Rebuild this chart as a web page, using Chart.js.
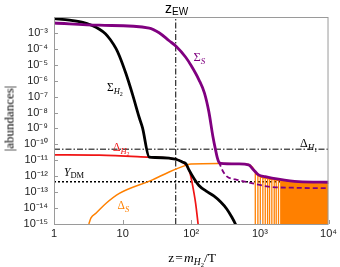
<!DOCTYPE html>
<html><head><meta charset="utf-8">
<script src="https://cdn.jsdelivr.net/npm/chart.js@4/dist/chart.umd.min.js"></script>
<style>
html,body{margin:0;padding:0;background:#fff;}
#wrap{position:relative;width:340px;height:267px;overflow:hidden;background:#fff;}
canvas{position:absolute;left:0;top:0;}
.lb{position:absolute;white-space:nowrap;font-family:"Liberation Serif","Times New Roman",serif;line-height:1;color:#000;}
.sans{font-family:"Liberation Sans",Arial,sans-serif;}
.it{font-style:italic;}
.sb{position:relative;}
</style></head><body>
<div id="wrap">
<canvas id="c" width="340" height="267"></canvas>
<div class="lb sans" style="left:165px;top:1px;font-size:14px;">z<span class="sb" style="font-size:10px;top:2px;">EW</span></div>
<div class="lb" style="left:107px;top:82px;font-size:11.5px;">Σ<span class="sb it" style="font-size:8.5px;top:3px;">H<span class="sb" style="font-size:6px;top:1.5px;font-style:normal;">2</span></span></div>
<div class="lb" style="left:193.5px;top:51px;font-size:12.5px;color:#800080;">Σ<span class="sb it" style="font-size:9px;top:2.5px;">S</span></div>
<div class="lb" style="left:113px;top:142px;font-size:11.5px;color:rgb(240,20,20);">Δ<span class="sb it" style="font-size:8.5px;top:3px;">H<span class="sb" style="font-size:6px;top:1.5px;font-style:normal;">2</span></span></div>
<div class="lb" style="left:300px;top:137px;font-size:12px;">Δ<span class="sb it" style="font-size:9px;top:3px;">H<span class="sb" style="font-size:6px;top:1.5px;font-style:normal;">1</span></span></div>
<div class="lb" style="left:64px;top:167px;font-size:11.5px;"><span class="it">Y</span><span class="sb" style="font-size:8.5px;top:1.5px;">DM</span></div>
<div class="lb" style="left:117.5px;top:200px;font-size:11.5px;color:rgb(255,128,0);">Δ<span class="sb it" style="font-size:8.5px;top:3px;">S</span></div>
<div class="lb" style="left:92px;top:251px;width:200px;text-align:center;font-size:13.5px;">z&#8202;=&#8202;<span class="it">m</span><span class="sb it" style="font-size:9.5px;top:3px;">H<span class="sb" style="font-size:6.5px;top:1.5px;font-style:normal;">2</span></span>/T</div>
<div class="lb" style="left:-41px;top:112px;width:100px;height:13px;text-align:center;font-size:13px;transform:rotate(-90deg);">|abundances|</div>
</div>
<script>
// ---- axis ticks ----
const zTicks = [1, 10, 100, 1000, 10000];
const zTickLabels = ['1', '10', '10²', '10³', '10⁴'];
const yTicks = [1e-15, 1e-14, 1e-13, 1e-12, 1e-11, 1e-10, 1e-9, 1e-8, 1e-7, 1e-6, 1e-5, 1e-4, 1e-3];
const yTickLabels = ['10⁻¹⁵', '10⁻¹⁴', '10⁻¹³', '10⁻¹²', '10⁻¹¹', '10⁻¹⁰', '10⁻⁹', '10⁻⁸', '10⁻⁷', '10⁻⁶', '10⁻⁵', '10⁻⁴', '10⁻³'];
const zMin = 1, zMax = 1e4, yMin = 1e-15, yMax = 1e-2;

// ---- Sigma_H2 (black) ----
const sigmaH2Z = [1, 1.69, 2.63, 3.52, 4.59, 5.61, 6.64, 8.02, 8.95, 11.2, 14.0, 17.5, 19.5, 24.4, 30, 47.6, 60, 74, 83.8, 92.6, 109.4, 129.4, 163.3, 213, 269, 329, 389, 440, 459];
const sigmaH2Y = [7.8e-3, 6.3e-3, 4.6e-3, 3.0e-3, 1.7e-3, 8.9e-4, 3.7e-4, 1.02e-4, 3.7e-5, 2.7e-6, 1.29e-7, 4.7e-9, 1.1e-9, 1.6e-11, 1.5e-11, 1.36e-11, 1.17e-11, 7.9e-12, 5.9e-12, 2.5e-12, 7.3e-13, 2.64e-13, 1.19e-13, 5.8e-14, 2.4e-14, 8.8e-15, 2.75e-15, 1.0e-15, 6.5e-16];

// ---- Delta_H2 (red) ----
const deltaH2Z = [1, 4.6, 24.4, 47.6, 60, 74, 87.4, 95.8, 103.3, 115.8, 126.3];
const deltaH2Y = [2.19e-11, 2.1e-11, 1.57e-11, 1.36e-11, 1.17e-11, 7.9e-12, 4.0e-12, 1.6e-12, 3.6e-13, 2.0e-14, 8.6e-16];

// ---- Sigma_S (purple, solid) ----
const sigmaSZ = [1, 4.6, 24.4, 34.0, 47.6, 60, 83, 100, 129.4, 155.4, 180.6, 206, 226, 240, 252, 269, 491, 686, 811, 957, 1197, 1866, 3640, 10000];
const sigmaSY = [4.2e-3, 3.05e-3, 2.03e-3, 1.03e-3, 3.23e-4, 1.46e-4, 2.96e-5, 8.65e-6, 1.14e-6, 1.73e-7, 1.1e-8, 3.4e-10, 4.5e-11, 1.42e-11, 7.9e-12, 6.4e-12, 5.9e-12, 5.1e-12, 2.5e-12, 1.21e-12, 9.4e-13, 6.5e-13, 4.57e-13, 4.2e-13];

// ---- Sigma_S alternative (purple, dashed) ----
const sigmaSDashZ = [252, 269, 288, 333, 440, 686, 1337, 2980, 10000];
const sigmaSDashY = [7.9e-12, 4.1e-12, 2.15e-12, 9.4e-13, 6.3e-13, 4.1e-13, 2.22e-13, 1.9e-13, 1.76e-13];

// ---- Delta_S (orange) ----
const deltaSZ = [3.22, 3.46, 4.12, 5.75, 8.96, 27.2, 47.6, 83, 99, 252, 686, 800];
const deltaSY = [1.0e-15, 2.4e-15, 4.9e-15, 2.0e-14, 8.3e-14, 5.9e-13, 1.86e-12, 4.8e-12, 5.9e-12, 6.4e-12, 5.5e-12, 3.3e-12];
// oscillation zeros of Delta_S and the envelope value at each
const spikeZ = [857, 935, 1014, 1105, 1197, 1294, 1384, 1493, 1618, 1729, 1867, 2015];
const spikeTop = [1.6e-12, 1.12e-12, 9.0e-13, 8.0e-13, 7.5e-13, 7.0e-13, 6.7e-13, 6.4e-13, 6.0e-13, 5.8e-13, 5.5e-13, 5.3e-13];
const spikeFloor = 1e-17;
// dense oscillation region, drawn as filled envelope
const denseZ = [2015, 2500, 3640, 6000, 10000];
const denseY = [5.3e-13, 4.7e-13, 4.1e-13, 3.8e-13, 3.5e-13];

// ---- reference lines ----
const zEW = 59.4;
const deltaH1 = 5e-11;
const yDM = 4.5e-13;

const mk = (zs, ys) => zs.map((z, i) => ({x: z, y: ys[i]}));
const spikePts = [{x: deltaSZ[deltaSZ.length - 1], y: deltaSY[deltaSY.length - 1]}];
spikeZ.forEach((z, i) => { spikePts.push({x: z, y: spikeTop[i]}, {x: z, y: spikeFloor}, {x: z, y: spikeTop[i]}); });

const PURPLE = '#800080', RED = 'rgb(240,20,20)', ORANGE = 'rgb(255,128,0)';
const base = {showLine: true, pointRadius: 0, fill: false, borderJoinStyle: 'round'};

const framePlugin = {
  id: 'frame',
  afterDatasetsDraw(chart) {
    const {ctx, chartArea: a, scales: {x, y}} = chart;
    ctx.save();
    ctx.strokeStyle = '#9a9a9a';
    ctx.lineWidth = 1;
    ctx.strokeRect(a.left + 0.5, a.top + 0.5, a.right - a.left - 1, a.bottom - a.top);
    ctx.beginPath();
    zTicks.forEach(v => { const p = Math.round(x.getPixelForValue(v)) + 0.5; ctx.moveTo(p, a.bottom); ctx.lineTo(p, a.bottom - 4); });
    yTicks.forEach(v => { const p = Math.round(y.getPixelForValue(v)) + 0.5; ctx.moveTo(a.left, p); ctx.lineTo(a.left + 4, p); });
    ctx.stroke();
    ctx.restore();
  }
};

new Chart(document.getElementById('c'), {
  type: 'scatter',
  data: {datasets: [
    {...base, data: mk(sigmaSZ, sigmaSY), borderColor: PURPLE, borderWidth: 2.8, cubicInterpolationMode: 'monotone'},
    {...base, data: mk(sigmaSDashZ, sigmaSDashY), borderColor: PURPLE, borderWidth: 1.8, borderDash: [5, 3], cubicInterpolationMode: 'monotone'},
    {...base, data: mk(sigmaH2Z, sigmaH2Y), borderColor: '#000', borderWidth: 2.8, cubicInterpolationMode: 'monotone'},
    {...base, data: mk(deltaH2Z, deltaH2Y), borderColor: RED, borderWidth: 1.7, cubicInterpolationMode: 'monotone'},
    {...base, data: mk(deltaSZ, deltaSY), borderColor: ORANGE, borderWidth: 1.5, cubicInterpolationMode: 'monotone'},
    {...base, data: spikePts, borderColor: ORANGE, borderWidth: 1.3, tension: 0},
    {...base, data: mk(denseZ, denseY), borderColor: ORANGE, borderWidth: 1, backgroundColor: ORANGE, fill: 'start', tension: 0},
    {...base, data: [{x: zMin, y: yDM}, {x: zMax, y: yDM}], borderColor: '#000', borderWidth: 1.5, borderDash: [2, 2]},
    {...base, data: [{x: zMin, y: deltaH1}, {x: zMax, y: deltaH1}], borderColor: '#000', borderWidth: 1, borderDash: [6, 2, 1.5, 2]},
    {...base, data: [{x: zEW, y: yMin}, {x: zEW, y: yMax}], borderColor: '#000', borderWidth: 1, borderDash: [6, 2, 1.5, 2]}
  ]},
  options: {
    responsive: false,
    devicePixelRatio: 1,
    animation: false,
    layout: {padding: {top: 17, right: 10, left: 0, bottom: 0}},
    plugins: {legend: {display: false}, tooltip: {enabled: false}},
    scales: {
      x: {
        type: 'logarithmic', min: zMin, max: zMax,
        afterBuildTicks: s => { s.ticks = zTicks.map(v => ({value: v})); },
        afterFit: s => { s.height = 43; },
        grid: {display: false, drawTicks: false},
        border: {display: false},
        ticks: {callback: (v, i) => zTickLabels[i], font: {family: "'Liberation Sans', Arial, sans-serif", size: 11}, color: '#222', padding: 3, maxRotation: 0, autoSkip: false}
      },
      y: {
        type: 'logarithmic', min: yMin, max: yMax,
        afterBuildTicks: s => { s.ticks = yTicks.map(v => ({value: v})); },
        afterFit: s => { s.width = 54; },
        grid: {display: false, drawTicks: false},
        border: {display: false},
        ticks: {callback: (v, i) => yTickLabels[i], font: {family: "'Liberation Sans', Arial, sans-serif", size: 11}, color: '#222', padding: 6, autoSkip: false}
      }
    }
  },
  plugins: [framePlugin]
});
</script>
</body></html>
